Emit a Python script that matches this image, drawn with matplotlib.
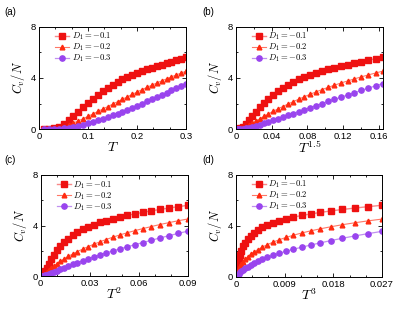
import numpy as np
import matplotlib
matplotlib.use("Agg")
import matplotlib.pyplot as plt
from matplotlib.ticker import MultipleLocator, AutoMinorLocator

# =============================================================================
# Data: specific heat C_v/N on a T grid (0.01 ... 0.30)
# =============================================================================
T = np.arange(1, 31) * 0.01
cv_d01 = [0.00, 0.02, 0.08, 0.20, 0.40, 0.68, 1.00, 1.36, 1.70, 2.05,
          2.38, 2.68, 2.96, 3.22, 3.46, 3.69, 3.90, 4.08, 4.25, 4.40,
          4.54, 4.67, 4.80, 4.92, 5.04, 5.16, 5.27, 5.38, 5.49, 5.60]
cv_d02 = [0.00, 0.01, 0.04, 0.10, 0.20, 0.33, 0.48, 0.64, 0.82, 1.00,
          1.19, 1.38, 1.57, 1.76, 1.95, 2.14, 2.33, 2.52, 2.71, 2.90,
          3.08, 3.26, 3.43, 3.60, 3.76, 3.92, 4.08, 4.23, 4.38, 4.52]
cv_d03 = [0.00, 0.00, 0.01, 0.03, 0.07, 0.12, 0.18, 0.26, 0.35, 0.45,
          0.56, 0.68, 0.81, 0.94, 1.08, 1.22, 1.37, 1.52, 1.68, 1.84,
          2.00, 2.16, 2.32, 2.49, 2.66, 2.84, 3.02, 3.20, 3.38, 3.56]
labels = [r'$D_1 = -0.1$', r'$D_1 = -0.2$', r'$D_1 = -0.3$']

powers = [1, 1.5, 2, 3]
xlabels = [r'$T$', r'$T^{1.5}$', r'$T^{2}$', r'$T^{3}$']
xticks = [[0, 0.1, 0.2, 0.3], [0, 0.04, 0.08, 0.12, 0.16],
          [0, 0.03, 0.06, 0.09], [0, 0.009, 0.018, 0.027]]
xticklabels = [['0', '0.1', '0.2', '0.3'], ['0', '0.04', '0.08', '0.12', '0.16'],
               ['0', '0.03', '0.06', '0.09'], ['0', '0.009', '0.018', '0.027']]
panel_tags = ['(a)', '(b)', '(c)', '(d)']

# =============================================================================
# Plot
# =============================================================================
plt.rcParams['font.family'] = ['Liberation Sans', 'DejaVu Sans']
plt.rcParams['mathtext.fontset'] = 'cm'

fig = plt.figure(figsize=(4.03, 3.09), dpi=100)
rects = [[0.097, 0.582, 0.365, 0.332], [0.585, 0.582, 0.365, 0.332],
         [0.101, 0.106, 0.365, 0.328], [0.585, 0.104, 0.363, 0.331]]
tag_pos = [(0.012, 0.952), (0.503, 0.952), (0.012, 0.472), (0.503, 0.472)]

styles = [dict(color='#ee1111', marker='s', ms=4.3, lw=1.0),
          dict(color='#ff2a10', marker='^', ms=3.4, lw=0.8),
          dict(color='#9944ee', marker='o', ms=3.8, lw=0.9)]
line_colors = ['#f88888', '#ff7766', '#c090f0']

for i in range(4):
    ax = fig.add_axes(rects[i])
    x = T ** powers[i]
    for cv, st, lc, lab in zip([cv_d01, cv_d02, cv_d03], styles, line_colors, labels):
        ax.plot(x, cv, color=lc, lw=st['lw'], zorder=1)
        ax.plot(x, cv, linestyle='none', marker=st['marker'], ms=st['ms'],
                color=st['color'], mec=st['color'], zorder=2)
        ax.plot([], [], color=lc, lw=st['lw'], marker=st['marker'], ms=st['ms'],
                mfc=st['color'], mec=st['color'], label=lab)
    ax.set_xlim(0, 0.3 ** powers[i])
    ax.set_ylim(0, 8)
    ax.set_xticks(xticks[i])
    ax.set_xticklabels(xticklabels[i])
    ax.set_yticks([0, 4, 8])
    ax.xaxis.set_minor_locator(AutoMinorLocator(3 if i != 1 else 2))
    ax.yaxis.set_minor_locator(MultipleLocator(2))
    ax.tick_params(which='both', direction='in', top=True, right=True,
                   labelsize=6.8, width=0.6, pad=2)
    ax.tick_params(which='major', length=3)
    ax.tick_params(which='minor', length=1.6)
    for sp in ax.spines.values():
        sp.set_linewidth(0.7)
    ax.set_xlabel(xlabels[i], fontsize=10, labelpad=-1)
    ax.set_ylabel(r'$C_v/N$', fontsize=9, labelpad=3)
    ax.legend(loc='upper left', frameon=False, fontsize=6.2, handlelength=1.6,
              handletextpad=0.3, labelspacing=-0.05, borderaxespad=0.1,
              bbox_to_anchor=(0.08, 1.0))
    fig.text(tag_pos[i][0], tag_pos[i][1], panel_tags[i], fontsize=7)

fig.savefig('out.png', dpi=100)
